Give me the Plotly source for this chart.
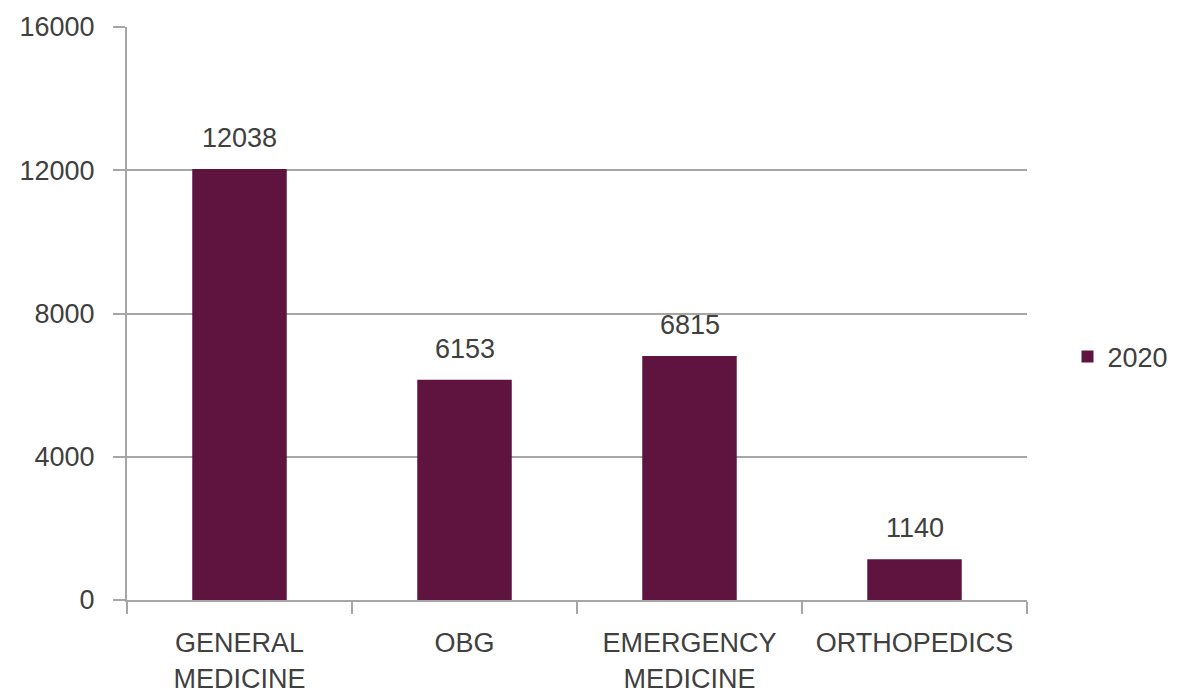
import plotly.graph_objects as go

categories = ["GENERAL<br>MEDICINE", "OBG", "EMERGENCY<br>MEDICINE", "ORTHOPEDICS"]
values_2020 = [12038, 6153, 6815, 1140]
series_name = "2020"
y_ticks = [0, 4000, 8000, 12000, 16000]

FONT = "Liberation Sans"
TEXT = "#404040"
GRID = "#a6a6a6"

fig = go.Figure()
fig.add_trace(go.Bar(
    x=categories,
    y=values_2020,
    name=series_name,
    marker=dict(color="#5f1440", line=dict(width=0)),
    showlegend=True,
))

for c, v in zip(categories, values_2020):
    fig.add_annotation(x=c, y=v, text=str(v), showarrow=False,
                       yanchor="bottom", yshift=14,
                       font=dict(family=FONT, size=27, color=TEXT))

# page body has an 8px margin, so the figure is sized to fill the rest of the window
fig.update_layout(
    width=1170, height=688,
    margin=dict(l=119, r=151, t=19, b=96, autoexpand=False),
    paper_bgcolor="white", plot_bgcolor="white",
    bargap=0.58,
    font=dict(family=FONT, size=27, color=TEXT),
    legend=dict(x=1.045, y=0.424, xanchor="left", yanchor="middle",
                font=dict(family=FONT, size=27, color=TEXT),
                itemwidth=30, bgcolor="rgba(0,0,0,0)"),
)
fig.update_xaxes(
    showgrid=False, showline=True, linecolor=GRID, linewidth=2,
    ticks="outside", tickson="boundaries", ticklen=12, tickcolor=GRID, tickwidth=2,
    tickfont=dict(family=FONT, size=27, color=TEXT),
    ticklabelstandoff=18, automargin=False,
)
fig.update_yaxes(
    range=[0, 16000], tickvals=y_ticks, ticktext=[str(t) for t in y_ticks],
    showgrid=True, gridcolor=GRID, gridwidth=2,
    showline=True, linecolor=GRID, linewidth=2,
    ticks="outside", ticklen=12, tickcolor=GRID, tickwidth=2,
    tickfont=dict(family=FONT, size=27, color=TEXT),
    ticklabelstandoff=13, automargin=False,
    zeroline=False,
)

fig.write_html("out.html")
